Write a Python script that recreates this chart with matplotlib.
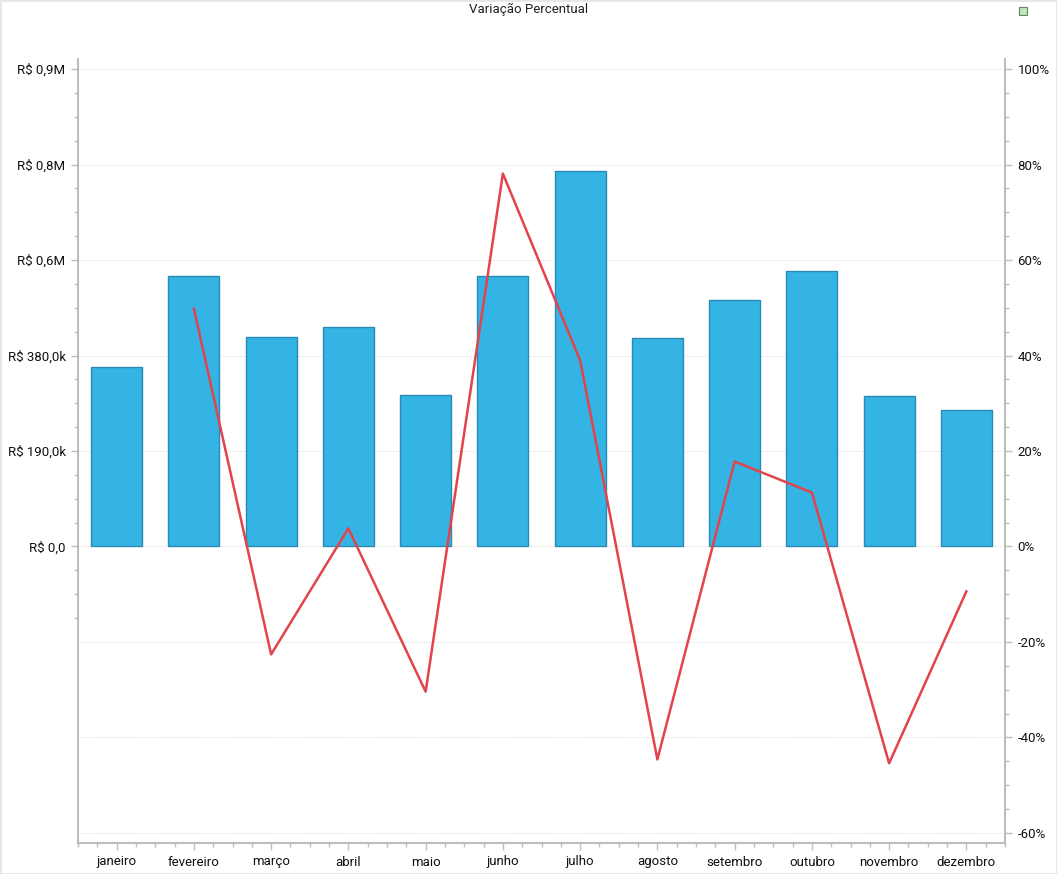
import matplotlib
matplotlib.use("Agg")
import matplotlib.pyplot as plt
from matplotlib.patches import Rectangle
from matplotlib.ticker import FixedLocator, MultipleLocator
import numpy as np

plt.rcParams['font.family'] = ['Roboto', 'DejaVu Sans']

meses = ['janeiro', 'fevereiro', 'março', 'abril', 'maio', 'junho',
         'julho', 'agosto', 'setembro', 'outubro', 'novembro', 'dezembro']
valores = [358000, 538000, 416000, 436000, 301000, 538000,
           747000, 414000, 490000, 548000, 299000, 271000]
variacao = [np.nan, 49.8, -22.6, 3.8, -30.4, 78.1,
            39.0, -44.6, 17.8, 11.3, -45.4, -9.4]
ticks_valor = [0, 190000, 380000, 570000, 760000, 950000]
labels_valor = ['R$ 0,0', 'R$ 190,0k', 'R$ 380,0k', 'R$ 0,6M', 'R$ 0,8M', 'R$ 0,9M']
ticks_pct = [-60, -40, -20, 0, 20, 40, 60, 80, 100]

spine_color = '#bdbdbd'
grid_color = '#e0e0e0'
escala = 9500  # R$ por ponto percentual (alinha os dois eixos)

fig = plt.figure(figsize=(10.57, 8.74), dpi=100)
ax = fig.add_axes([78 / 1057, 31 / 874, 927 / 1057, 784 / 874])
ax2 = ax.twinx()

x = np.arange(len(meses))
ax.bar(x, valores, width=0.66, color='#33b4e4', edgecolor='#2a8ab3', linewidth=1, zorder=2)
ax2.plot(x, variacao, color='#e3434b', linewidth=1.8, zorder=3)

ax.set_xlim(-0.5, 11.5)
ax.set_ylim(-62.1 * escala, 102.1 * escala)
ax2.set_ylim(-62.1, 102.1)

ax.set_xticks(x)
ax.set_xticklabels(meses, fontsize=9.5)
ax.xaxis.set_minor_locator(FixedLocator(np.arange(-0.5, 11.51, 0.25)))

ax.yaxis.set_major_locator(FixedLocator(ticks_valor))
ax.set_yticklabels(labels_valor, fontsize=9.5)
ax.yaxis.set_minor_locator(FixedLocator(np.arange(-142500, 950001, 47500)))

ax2.yaxis.set_major_locator(FixedLocator(ticks_pct))
ax2.set_yticklabels(['{}%'.format(t) for t in ticks_pct], fontsize=9.5)
ax2.yaxis.set_minor_locator(MultipleLocator(5))

for a in (ax, ax2):
    for s in a.spines.values():
        s.set_color(spine_color)
        s.set_linewidth(1.5)
    a.spines['top'].set_visible(False)
    a.tick_params(which='both', color=spine_color, width=1, labelcolor='#111111')
    a.tick_params(which='major', length=5, pad=4)
    a.tick_params(which='minor', length=3)
ax.spines['right'].set_visible(False)
ax2.spines['left'].set_visible(False)
ax2.spines['bottom'].set_visible(False)

# grade atrás das barras
ax.set_axisbelow(True)
ax.grid(axis='y', which='major', color=grid_color, linestyle=(0, (1, 1)), linewidth=0.7)
for t in ticks_pct:
    if t < 0:
        ax.axhline(t * escala, color=grid_color, linestyle=(0, (1, 1)), linewidth=0.7, zorder=0.5)
ax2.set_zorder(ax.get_zorder() + 1)
ax2.patch.set_visible(False)

fig.text(0.5, 1 - 9 / 874, 'Variação Percentual', ha='center', va='center', fontsize=9.5, color='#222222')

# marcador verde no canto e borda do painel
fig.patches.append(Rectangle((1019 / 1057, 1 - 15 / 874), 8 / 1057, 8 / 874, transform=fig.transFigure,
                             facecolor='#bfe8bf', edgecolor='#5a8a5a', linewidth=0.8))
fig.patches.append(Rectangle((0, 0), 1, 1, transform=fig.transFigure, fill=False,
                             edgecolor='#e6e6e6', linewidth=2))

fig.savefig('out.png', dpi=100)
